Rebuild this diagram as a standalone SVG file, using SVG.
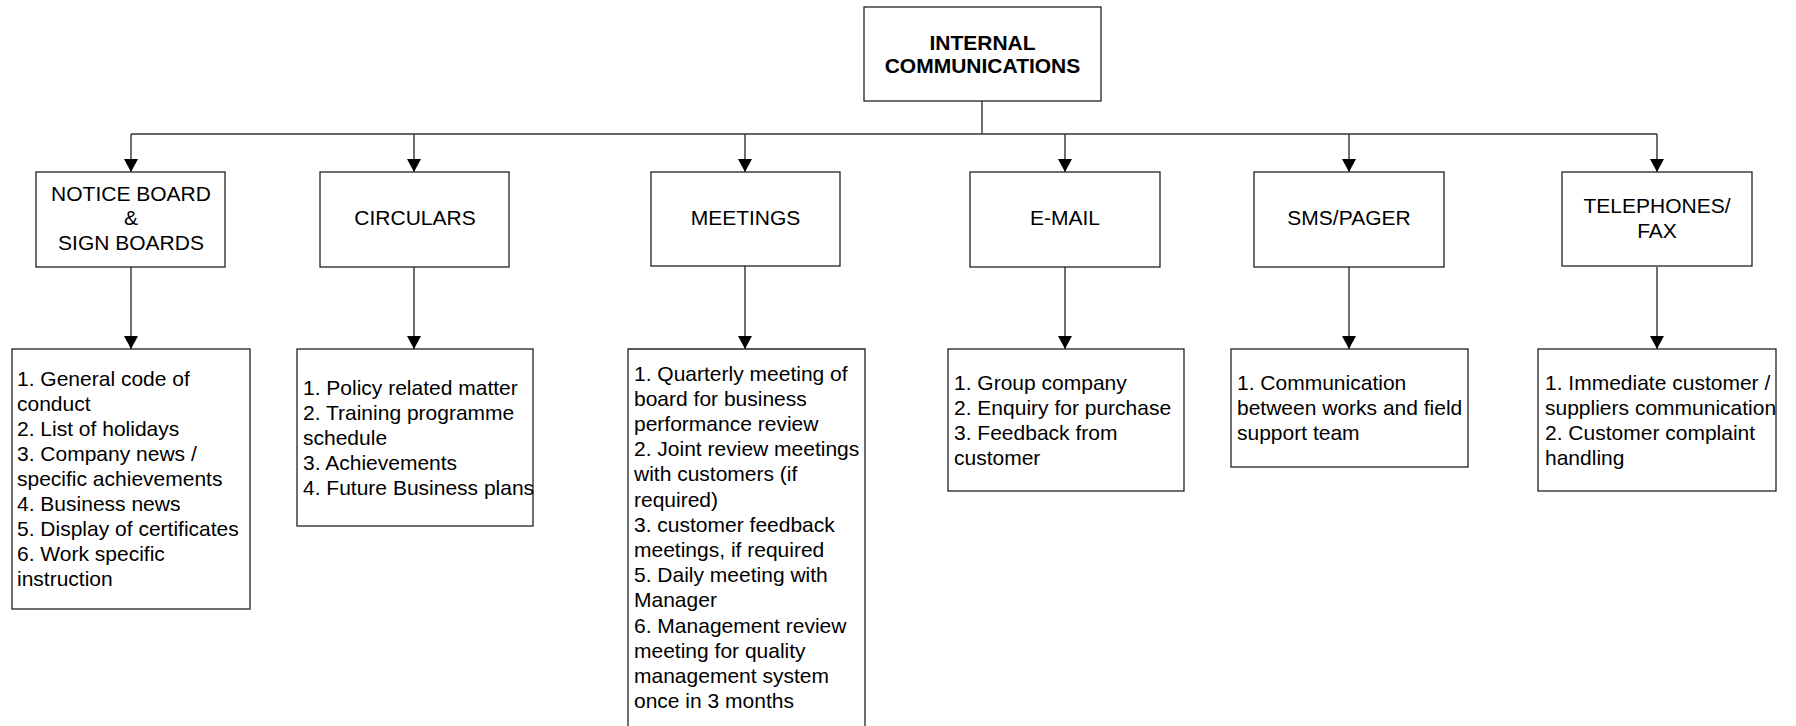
<svg xmlns="http://www.w3.org/2000/svg" width="1796" height="726" viewBox="0 0 1796 726">
<style>
.box{fill:#fff;stroke:#222;stroke-width:1.3}
.t{font-family:"Liberation Sans",Arial,sans-serif;font-size:21px;fill:#000}
.c{text-anchor:middle}
.b{font-weight:bold}
.ln{fill:none;stroke:#333;stroke-width:1.4}
</style>
<defs>
<marker id="ah" viewBox="0 0 13 14" refX="13" refY="7" markerWidth="13" markerHeight="14" markerUnits="userSpaceOnUse" orient="auto">
<path d="M0,0 L13,7 L0,14 z" fill="#000"/>
</marker>
</defs>
<rect width="1796" height="726" fill="#fff"/>
<g id="connectors">
<path class="ln" d="M982,101 V134"/>
<path class="ln" d="M131,134 H1657" stroke-width="1.8"/>
<path class="ln" d="M131,134 V172" marker-end="url(#ah)"/>
<path class="ln" d="M414,134 V172" marker-end="url(#ah)"/>
<path class="ln" d="M745,134 V172" marker-end="url(#ah)"/>
<path class="ln" d="M1065,134 V172" marker-end="url(#ah)"/>
<path class="ln" d="M1349,134 V172" marker-end="url(#ah)"/>
<path class="ln" d="M1657,134 V172" marker-end="url(#ah)"/>
<path class="ln" d="M131,267 V349" marker-end="url(#ah)"/>
<path class="ln" d="M414,267 V349" marker-end="url(#ah)"/>
<path class="ln" d="M745,266 V349" marker-end="url(#ah)"/>
<path class="ln" d="M1065,267 V349" marker-end="url(#ah)"/>
<path class="ln" d="M1349,267 V349" marker-end="url(#ah)"/>
<path class="ln" d="M1657,267 V349" marker-end="url(#ah)"/>
</g>
<g id="root">
<rect class="box" x="864" y="7" width="237" height="94"/>
<text class="t c b" x="982.5" y="50">INTERNAL</text>
<text class="t c b" x="982.5" y="73">COMMUNICATIONS</text>
</g>
<g id="notice">
<rect class="box" x="36" y="172" width="189" height="95"/>
<text class="t c" x="131" y="201">NOTICE BOARD</text>
<text class="t c" x="131" y="225">&amp;</text>
<text class="t c" x="131" y="250">SIGN BOARDS</text>
</g>
<g id="circulars">
<rect class="box" x="320" y="172" width="189" height="95"/>
<text class="t c" x="415" y="225">CIRCULARS</text>
</g>
<g id="meetings">
<rect class="box" x="651" y="172" width="189" height="94"/>
<text class="t c" x="745.5" y="225">MEETINGS</text>
</g>
<g id="email">
<rect class="box" x="970" y="172" width="190" height="95"/>
<text class="t c" x="1065" y="225">E-MAIL</text>
</g>
<g id="sms">
<rect class="box" x="1254" y="172" width="190" height="95"/>
<text class="t c" x="1349" y="225">SMS/PAGER</text>
</g>
<g id="telephones">
<rect class="box" x="1562" y="172" width="190" height="94"/>
<text class="t c" x="1657" y="213">TELEPHONES/</text>
<text class="t c" x="1657" y="238">FAX</text>
</g>
<g id="notice-list">
<rect class="box" x="12" y="349" width="238" height="260"/>
<text class="t" x="17" y="386">1. General code of</text>
<text class="t" x="17" y="411">conduct</text>
<text class="t" x="17" y="436">2. List of holidays</text>
<text class="t" x="17" y="461">3. Company news /</text>
<text class="t" x="17" y="486">specific achievements</text>
<text class="t" x="17" y="511">4. Business news</text>
<text class="t" x="17" y="536">5. Display of certificates</text>
<text class="t" x="17" y="561">6. Work specific</text>
<text class="t" x="17" y="586">instruction</text>
</g>
<g id="circulars-list">
<rect class="box" x="297" y="349" width="236" height="177"/>
<text class="t" x="303" y="395">1. Policy related matter</text>
<text class="t" x="303" y="420">2. Training programme</text>
<text class="t" x="303" y="445">schedule</text>
<text class="t" x="303" y="470">3. Achievements</text>
<text class="t" x="303" y="495">4. Future Business plans</text>
</g>
<g id="meetings-list">
<path class="box" d="M628,730 V349 H865 V730"/>
<text class="t" x="634" y="381">1. Quarterly meeting of</text>
<text class="t" x="634" y="406">board for business</text>
<text class="t" x="634" y="431">performance review</text>
<text class="t" x="634" y="456">2. Joint review meetings</text>
<text class="t" x="634" y="481">with customers (if</text>
<text class="t" x="634" y="507">required)</text>
<text class="t" x="634" y="532">3. customer feedback</text>
<text class="t" x="634" y="557">meetings, if required</text>
<text class="t" x="634" y="582">5. Daily meeting with</text>
<text class="t" x="634" y="607">Manager</text>
<text class="t" x="634" y="633">6. Management review</text>
<text class="t" x="634" y="658">meeting for quality</text>
<text class="t" x="634" y="683">management system</text>
<text class="t" x="634" y="708">once in 3 months</text>
</g>
<g id="email-list">
<rect class="box" x="948" y="349" width="236" height="142"/>
<text class="t" x="954" y="390">1. Group company</text>
<text class="t" x="954" y="415">2. Enquiry for purchase</text>
<text class="t" x="954" y="440">3. Feedback from</text>
<text class="t" x="954" y="465">customer</text>
</g>
<g id="sms-list">
<rect class="box" x="1231" y="349" width="237" height="118"/>
<text class="t" x="1237" y="390">1. Communication</text>
<text class="t" x="1237" y="415">between works and field</text>
<text class="t" x="1237" y="440">support team</text>
</g>
<g id="telephones-list">
<rect class="box" x="1538" y="349" width="238" height="142"/>
<text class="t" x="1545" y="390">1. Immediate customer /</text>
<text class="t" x="1545" y="415">suppliers communication</text>
<text class="t" x="1545" y="440">2. Customer complaint</text>
<text class="t" x="1545" y="465">handling</text>
</g>
</svg>
